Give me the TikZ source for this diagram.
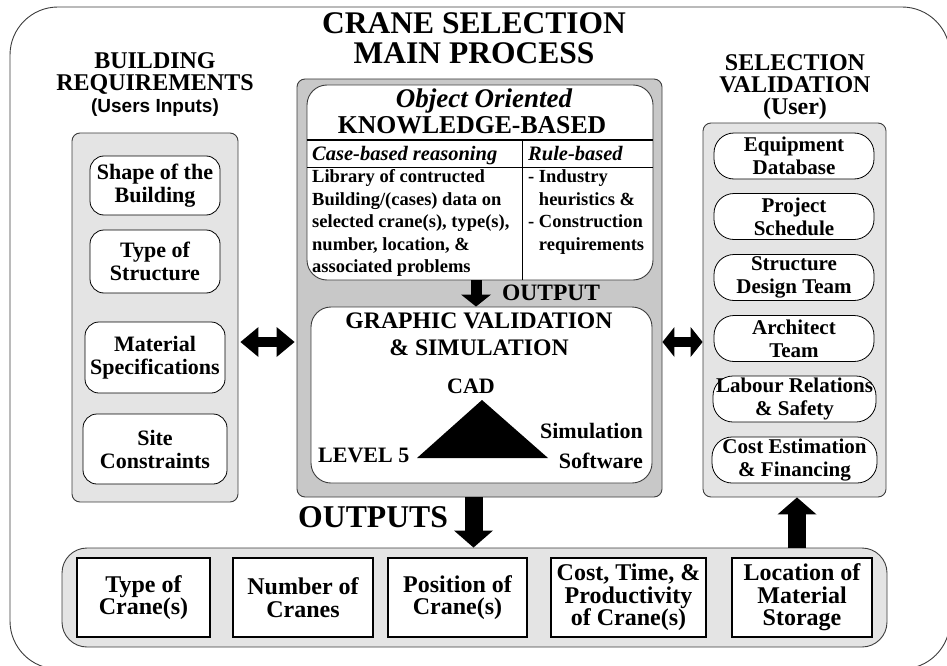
\documentclass[tikz,border=0pt]{standalone}
\usepackage{fontspec}
\setmainfont{Liberation Serif}
\setsansfont{Liberation Sans}
\usetikzlibrary{arrows.meta,positioning}
\definecolor{panelgray}{RGB}{228,228,228}
\definecolor{maingray}{RGB}{200,200,200}
\definecolor{edgegray}{RGB}{60,60,60}

\tikzset{
    panel/.style={draw=edgegray, fill=panelgray, rounded corners=8pt, line width=0.9pt},
    inbox/.style={draw, fill=white, rounded corners=14pt, align=center, line width=0.8pt,
        inner sep=0pt, font=\fontsize{22}{23}\selectfont\bfseries},
    pillbox/.style={inbox, rounded corners=20pt, minimum width=160pt, minimum height=46pt,
        font=\fontsize{21}{23}\selectfont\bfseries},
    outbox/.style={draw, fill=white, line width=2.8pt, align=center, inner sep=0pt,
        minimum height=79pt, font=\fontsize{24}{22.5}\selectfont\bfseries},
    bigarrow/.style={line width=18pt, -{Triangle[length=17pt,width=39pt,line width=0pt]}},
    dblarrow/.style={line width=10pt,
        {Triangle[length=18pt,width=30pt,line width=0pt]}-{Triangle[length=18pt,width=30pt,line width=0pt]}},
}

\begin{document}
\begin{tikzpicture}[x=1pt, y=-1pt]
    \useasboundingbox (0,0) rectangle (947,666);
    % outer frame
    \draw[edgegray, line width=0.9pt, rounded corners=48pt] (10,7) rectangle (950,669);

    % titles
    \node[align=center, inner sep=0pt, font=\fontsize{31.5}{30}\selectfont\bfseries] (title)
        at (474,38.5) {CRANE SELECTION\\MAIN PROCESS};
    \node[align=center, inner sep=0pt, anchor=north, font=\fontsize{24}{22}\selectfont\bfseries] (bldtitle)
        at (155,52) {BUILDING\\REQUIREMENTS};
    \node[anchor=base, inner sep=0pt, font=\fontsize{19}{20}\selectfont\sffamily\bfseries] (bldusers)
        at (155,113) {(Users Inputs)};
    \node[align=center, inner sep=0pt, anchor=north, font=\fontsize{24}{22}\selectfont\bfseries] (valtitle)
        at (795,54) {SELECTION\\VALIDATION\\(User)};

    % panels
    \node[panel, minimum width=166pt, minimum height=369pt] (leftpanel) at (155,317.5) {};
    \node[panel, fill=maingray, minimum width=365pt, minimum height=418pt] (mainpanel) at (479.5,288) {};
    \node[panel, minimum width=183pt, minimum height=374pt] (rightpanel) at (794.5,310) {};
    \node[panel, rounded corners=25pt, minimum width=825pt, minimum height=99pt] (outpanel) at (474.5,597.5) {};

    % building requirements
    \node[inbox, minimum width=130pt, minimum height=59pt] (shape) at (155,185.5) {Shape of the\\Building};
    \node[inbox, minimum width=130pt, minimum height=63pt] (structure) at (155,261.5) {Type of\\Structure};
    \node[inbox, minimum width=140pt, minimum height=71pt] (material) at (155,357.5) {Material\\Specifications};
    \node[inbox, minimum width=144pt, minimum height=70pt] (site) at (155,449) {Site\\Constraints};

    % knowledge-based part
    \node[draw=edgegray, fill=white, line width=0.9pt, rounded corners=20pt,
        minimum width=346pt, minimum height=195pt] (kb) at (480,182.5) {};
    \node[anchor=base, inner sep=0pt, font=\fontsize{27}{30}\selectfont\bfseries\itshape] (kboo)
        at (484,108) {Object Oriented};
    \node[anchor=base, inner sep=0pt, font=\fontsize{25.7}{28}\selectfont\bfseries] (kbkb)
        at (472,133) {KNOWLEDGE-BASED};
    \coordinate (kbsplit) at (522,140);
    \draw[line width=2.2pt] (kb.west |- kbsplit) -- (kb.east |- kbsplit);
    \draw[line width=0.8pt] (307,167) -- (653,167);
    \draw[line width=0.8pt] (kbsplit) -- (kbsplit |- kb.south);
    \node[anchor=base west, inner sep=0pt, font=\fontsize{20.5}{22}\selectfont\bfseries\itshape] (casehead)
        at (312,160) {Case-based reasoning};
    \node[anchor=base west, inner sep=0pt, font=\fontsize{20.5}{22}\selectfont\bfseries\itshape] (rulehead)
        at (528,160) {Rule-based};
    \node[anchor=north west, align=left, inner sep=0pt, font=\fontsize{18.5}{22.5}\selectfont\bfseries] (casetext)
        at (312,169.5) {Library of contructed\\Building/(cases) data on\\selected crane(s), type(s),\\number, location, \&\\associated problems};
    \node[anchor=north west, align=left, inner sep=0pt, font=\fontsize{18.5}{22.5}\selectfont\bfseries] (ruletext)
        at (528,169.5) {- Industry\\\hphantom{- }heuristics \&\\- Construction\\\hphantom{- }requirements};

    % graphic validation
    \node[draw=edgegray, fill=white, line width=0.9pt, rounded corners=20pt,
        minimum width=341pt, minimum height=176pt] (graphic) at (481.5,395) {};
    \node[anchor=north, align=center, inner sep=0pt, font=\fontsize{23.7}{27}\selectfont\bfseries] (gvtitle)
        at (479,312.5) {GRAPHIC VALIDATION\\\& SIMULATION};
    \node[anchor=base west, inner sep=0pt, font=\fontsize{23.5}{25}\selectfont\bfseries] (outlabel)
        at (502,300) {OUTPUT};
    \fill (482,400) -- (417,458) -- (548,458) -- cycle;
    \node[anchor=base, inner sep=0pt, font=\fontsize{22}{24}\selectfont\bfseries] (cad) at (471,393) {CAD};
    \node[anchor=base west, inner sep=0pt, font=\fontsize{22}{24}\selectfont\bfseries] (level) at (318,462) {LEVEL 5};
    \node[anchor=base east, inner sep=0pt, font=\fontsize{22}{24}\selectfont\bfseries] (simul) at (643,438) {Simulation};
    \node[anchor=base east, inner sep=0pt, font=\fontsize{22}{24}\selectfont\bfseries] (soft) at (643,468) {Software};

    % selection validation
    \node[pillbox] (equip) at (794,156) {Equipment\\Database};
    \node[pillbox] (sched) at (794,216.5) {Project\\Schedule};
    \node[pillbox] (design) at (794,277.5) {Structure\\Design Team};
    \node[pillbox] (arch) at (794,338.5) {Architect\\Team};
    \node[pillbox, minimum width=163pt] (labour) at (794.5,399) {Labour Relations\\\& Safety};
    \node[pillbox, minimum width=165pt] (cost) at (794.5,460) {Cost Estimation\\\& Financing};

    % outputs
    \node[anchor=base west, inner sep=0pt, font=\fontsize{31.7}{32}\selectfont\bfseries] (outputs)
        at (298,527) {OUTPUTS};
    \node[outbox, minimum width=133pt] (ctype) at (143.5,597.5) {Type of\\Crane(s)};
    \node[outbox, minimum width=140pt] (cnum) at (303,597.5) {Number of\\Cranes};
    \node[outbox, minimum width=139pt] (cpos) at (457.5,597.5) {Position of\\Crane(s)};
    \node[outbox, minimum width=155pt] (ccost) at (628.5,597.5) {Cost, Time, \&\\Productivity\\of Crane(s)};
    \node[outbox, minimum width=140pt] (cstore) at (802,597.5) {Location of\\Material\\Storage};

    % arrows
    \coordinate (arrowrow) at (0,342);
    \draw[dblarrow, shorten <=2pt, shorten >=2pt] (leftpanel.east |- arrowrow) -- (mainpanel.west |- arrowrow);
    \draw[dblarrow, {Triangle[length=12pt,width=30pt,line width=0pt]}-{Triangle[length=12pt,width=30pt,line width=0pt]}]
        (mainpanel.east |- arrowrow) -- (rightpanel.west |- arrowrow);
    \draw[line width=11pt, -{Triangle[length=12pt,width=30pt,line width=0pt]}]
        ([xshift=-4pt]kb.south) -- ([xshift=-4pt]kb.south |- graphic.north);
    \draw[bigarrow] ([xshift=-6pt]mainpanel.south) -- ([xshift=-6pt]mainpanel.south |- outpanel.north);
    \draw[bigarrow] ([xshift=2.5pt]rightpanel.south |- outpanel.north) -- ([xshift=2.5pt]rightpanel.south);
\end{tikzpicture}
\end{document}
